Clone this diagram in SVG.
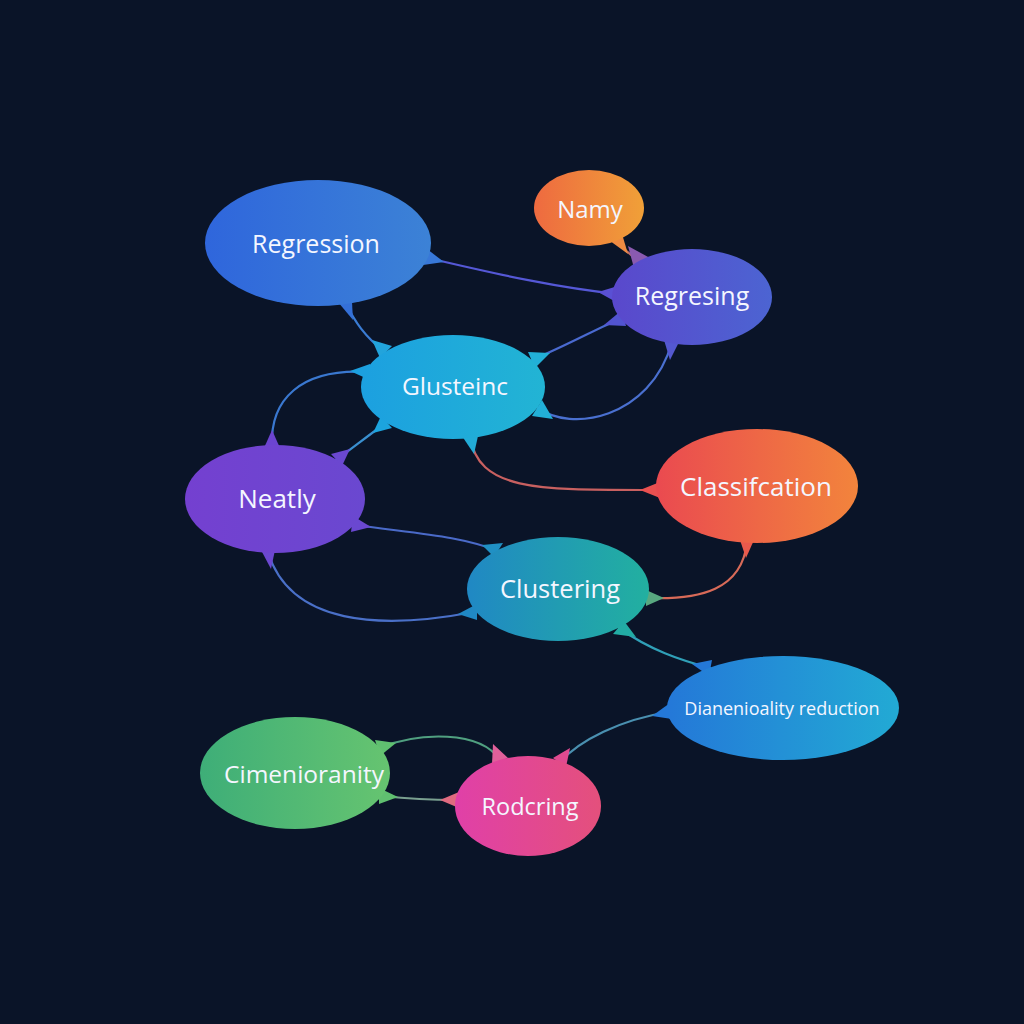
<svg xmlns="http://www.w3.org/2000/svg" width="1024" height="1024" viewBox="0 0 1024 1024">
<defs>
<linearGradient id="gReg" x1="0" y1="0" x2="1" y2="0"><stop offset="0" stop-color="#2f66dc"/><stop offset="1" stop-color="#3c82d6"/></linearGradient>
<linearGradient id="gNamy" x1="0" y1="0" x2="1" y2="0"><stop offset="0" stop-color="#ee6a40"/><stop offset="1" stop-color="#f0a038"/></linearGradient>
<linearGradient id="gRegs" x1="0" y1="0" x2="1" y2="0"><stop offset="0" stop-color="#5a48cc"/><stop offset="1" stop-color="#4c64d2"/></linearGradient>
<linearGradient id="gGlu" x1="0" y1="0" x2="1" y2="0"><stop offset="0" stop-color="#1ca0e0"/><stop offset="1" stop-color="#22b4d4"/></linearGradient>
<linearGradient id="gNea" x1="0" y1="0" x2="1" y2="0"><stop offset="0" stop-color="#7440d0"/><stop offset="1" stop-color="#6a48d0"/></linearGradient>
<linearGradient id="gCla" x1="0" y1="0" x2="1" y2="0"><stop offset="0" stop-color="#ea4a50"/><stop offset="1" stop-color="#f2843c"/></linearGradient>
<linearGradient id="gClu" x1="0" y1="0" x2="1" y2="0"><stop offset="0" stop-color="#2088c4"/><stop offset="1" stop-color="#22b0a0"/></linearGradient>
<linearGradient id="gDim" x1="0" y1="0" x2="1" y2="0"><stop offset="0" stop-color="#2478d8"/><stop offset="1" stop-color="#22aad4"/></linearGradient>
<linearGradient id="gCim" x1="0" y1="0" x2="1" y2="0"><stop offset="0" stop-color="#3eae78"/><stop offset="1" stop-color="#66c470"/></linearGradient>
<linearGradient id="gRod" x1="0" y1="0" x2="1" y2="0"><stop offset="0" stop-color="#e040a8"/><stop offset="1" stop-color="#e4507c"/></linearGradient>
</defs>
<style>
.lbl{font-family:"Open Sans","Noto Sans","Liberation Sans",sans-serif;font-size:25px;fill:#f4f6ff;text-anchor:middle;dominant-baseline:central}
.c{fill:none;stroke-width:2.2;stroke-linecap:round}
</style>
<rect width="1024" height="1024" fill="#0a1428"/>
<g id="connectors">
<path class="c" stroke="#5558d6" d="M428,258 C500,275 560,288 618,294"/>
<path d="M423,265 L427,249 L444,262 Z" fill="#3878d8"/>
<path d="M618,286 L616,302 L598,292 Z" fill="#5a50d4"/>
<path class="c" stroke="#c07068" d="M614,240 C625,250 632,256 640,262"/>
<path d="M606,238 L622,234 L628,254 Z" fill="#ee8a42"/>
<path d="M634,268 L650,258 L628,246 Z" fill="#8a5ab0"/>
<path class="c" stroke="#3a7cd4" d="M345,302 C355,322 365,337 385,352"/>
<path d="M338,302 L352,302 L353,320 Z" fill="#3470d8"/>
<path d="M380,358 L392,346 L372,340 Z" fill="#22a4dc"/>
<path class="c" stroke="#4a6ad0" d="M532,360 C570,344 598,328 622,318"/>
<path d="M528,352 L535,368 L550,353 Z" fill="#22b0d8"/>
<path d="M622,310 L626,326 L604,325 Z" fill="#5254d0"/>
<path class="c" stroke="#4a70d0" d="M538,408 C570,432 650,420 672,342"/>
<path d="M532,416 L542,400 L553,419 Z" fill="#22b0d8"/>
<path d="M664,340 L680,340 L670,360 Z" fill="#5458d0"/>
<path class="c" stroke="#3a78d0" d="M368,372 C300,368 270,400 272,446"/>
<path d="M370,364 L370,380 L350,371 Z" fill="#1ca0e0"/>
<path d="M264,448 L280,448 L272,430 Z" fill="#6c44d0"/>
<path class="c" stroke="#3a90d0" d="M387,422 C365,438 350,450 336,460"/>
<path d="M381,416 L392,428 L373,433 Z" fill="#1ca4de"/>
<path d="M331,454 L342,466 L350,449 Z" fill="#6a48d0"/>
<path class="c" stroke="#c86060" d="M470,436 C478,492 540,490 658,490"/>
<path d="M462,436 L478,436 L474,454 Z" fill="#22acd8"/>
<path d="M660,482 L660,498 L640,490 Z" fill="#ea5050"/>
<path class="c" stroke="#4a6ac8" d="M355,525 C420,534 460,536 498,551"/>
<path d="M353,516 L351,532 L371,527 Z" fill="#6a48d0"/>
<path d="M494,557 L503,543 L482,545 Z" fill="#2090c4"/>
<path class="c" stroke="#4a70c8" d="M268,552 C290,625 380,630 474,612"/>
<path d="M261,550 L275,550 L271,569 Z" fill="#6c48d0"/>
<path d="M477,604 L477,620 L458,614 Z" fill="#2088c4"/>
<path class="c" stroke="#d86a58" d="M747,542 C742,590 700,600 648,598"/>
<path d="M740,540 L754,540 L746,558 Z" fill="#ea5a4c"/>
<path d="M646,590 L646,606 L664,598 Z" fill="#58a880"/>
<path class="c" stroke="#30a0b8" d="M619,628 C650,650 680,660 710,668"/>
<path d="M613,634 L624,621 L636,637 Z" fill="#22aca4"/>
<path d="M712,660 L709,676 L692,664 Z" fill="#2478d8"/>
<path class="c" stroke="#4a90b0" d="M668,712 C620,720 580,740 560,762"/>
<path d="M670,703 L672,719 L652,716 Z" fill="#2478d8"/>
<path d="M553,758 L566,767 L570,748 Z" fill="#e04a90"/>
<path class="c" stroke="#50a080" d="M378,748 C420,732 480,730 500,760"/>
<path d="M375,740 L380,756 L396,743 Z" fill="#60c070"/>
<path d="M492,764 L508,758 L493,744 Z" fill="#e0609a"/>
<path class="c" stroke="#7aa090" d="M382,796 C420,800 440,800 456,800"/>
<path d="M379,788 L379,804 L398,797 Z" fill="#60c070"/>
<path d="M459,792 L459,808 L440,800 Z" fill="#e06a80"/>
</g>
<g id="n-regression"><ellipse cx="318" cy="243" rx="113" ry="63" fill="url(#gReg)"/><text class="lbl" x="316" y="243">Regression</text></g>
<g id="n-namy"><ellipse cx="589" cy="208" rx="55" ry="38" fill="url(#gNamy)"/><text class="lbl" x="590" y="208" style="font-size:24px">Namy</text></g>
<g id="n-regresing"><ellipse cx="692" cy="297" rx="80" ry="48" fill="url(#gRegs)"/><text class="lbl" x="692" y="295">Regresing</text></g>
<g id="n-glusteinc"><ellipse cx="453" cy="387" rx="92" ry="52" fill="url(#gGlu)"/><text class="lbl" x="455" y="385" style="font-size:24.5px">Glusteinc</text></g>
<g id="n-neatly"><ellipse cx="275" cy="499" rx="90" ry="54" fill="url(#gNea)"/><text class="lbl" x="277" y="498" style="font-size:26px">Neatly</text></g>
<g id="n-classification"><ellipse cx="757" cy="486" rx="101" ry="57" fill="url(#gCla)"/><text class="lbl" x="756" y="486" style="font-size:26px">Classifcation</text></g>
<g id="n-clustering"><ellipse cx="558" cy="589" rx="91" ry="52" fill="url(#gClu)"/><text class="lbl" x="560" y="588" style="font-size:25.5px">Clustering</text></g>
<g id="n-dimensionality"><ellipse cx="783" cy="708" rx="116" ry="52" fill="url(#gDim)"/><text class="lbl" x="782" y="708" style="font-size:18px">Dianenioality reduction</text></g>
<g id="n-cimenioranity"><ellipse cx="295" cy="773" rx="95" ry="56" fill="url(#gCim)"/><text class="lbl" x="304" y="773" style="font-size:24.5px">Cimenioranity</text></g>
<g id="n-rodcring"><ellipse cx="528" cy="806" rx="73" ry="50" fill="url(#gRod)"/><text class="lbl" x="530" y="806" style="font-size:23.5px">Rodcring</text></g>
</svg>
